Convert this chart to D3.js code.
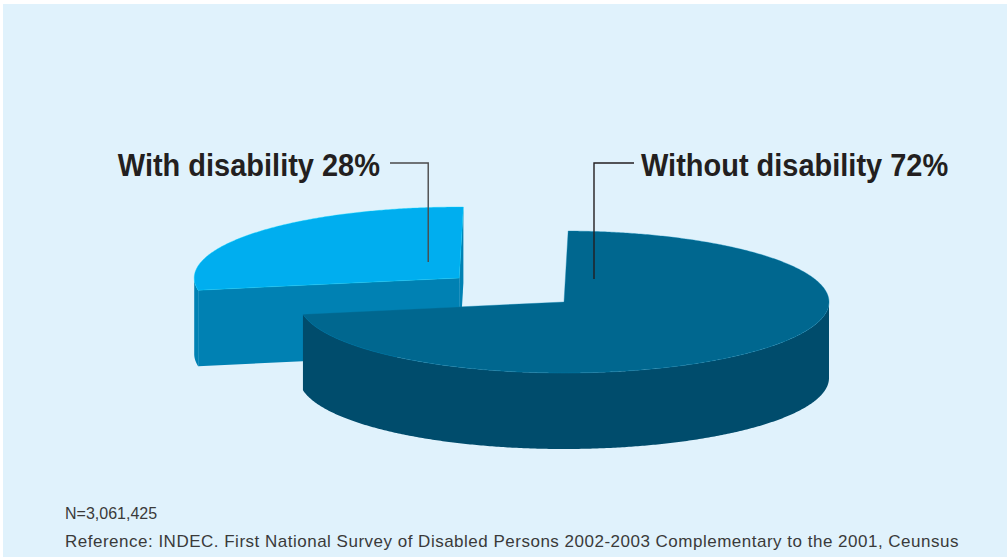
<!DOCTYPE html>
<html>
<head>
<meta charset="utf-8">
<script src="https://cdn.jsdelivr.net/npm/d3@7"></script>
<style>
  html, body { margin: 0; padding: 0; background: #ffffff; }
  svg { display: block; }
</style>
</head>
<body>
<svg id="chart" width="1007" height="558"></svg>
<script>
// ---- data ----
const categories = ["Without disability", "With disability"];
const values = [72, 28];
const labels = ["Without disability 72%", "With disability 28%"];
const sampleNote = "N=3,061,425";
const sourceNote = "Reference: INDEC. First National Survey of Disabled Persons 2002-2003 Complementary to the 2001, Ceunsus";

// ---- styling / layout ----
const topColors = ["#00678f", "#00aeef"];
const sideColors = ["#004c6c", "#0081b3"];
const explode = [0, 0.52];
const W = 1007, H = 558;
const cx = 564, cy = 302, rx = 265, ry = 71, depth = 76;
const startAngle = 0.9 * Math.PI / 180;

const svg = d3.select("#chart");
svg.append("rect").attr("x", 3).attr("y", 4).attr("width", W - 3).attr("height", H - 5)
  .attr("fill", "#e0f2fc");

const pie = d3.pie().sort(null).startAngle(startAngle).endAngle(startAngle + 2 * Math.PI);
const arcs = pie(values);

// projection of unit-circle angle to the tilted ellipse
const px = (c, a, r = 1) => c[0] + rx * r * Math.sin(a);
const py = (c, a, r = 1) => c[1] - ry * r * Math.cos(a);
const line = d3.line();

function rimPoints(c, a0, a1, dy) {
  const n = Math.max(2, Math.ceil(Math.abs(a1 - a0) / (0.5 * Math.PI / 180)));
  const pts = [];
  for (let i = 0; i <= n; i++) {
    const a = a0 + (a1 - a0) * i / n;
    pts.push([px(c, a), py(c, a) + dy]);
  }
  return pts;
}

function centerOf(d, i) {
  const mid = (d.startAngle + d.endAngle) / 2;
  return [cx + rx * explode[i] * Math.sin(mid), cy - ry * explode[i] * Math.cos(mid)];
}

function drawSlice(g, d, i) {
  const c = centerOf(d, i);
  const a0 = d.startAngle, a1 = d.endAngle;
  // cut faces (visible only when they face the viewer)
  if (Math.sin(a0) < -1e-6) {
    g.append("path").attr("fill", sideColors[i])
      .attr("d", line([[c[0], c[1]], [px(c, a0), py(c, a0)], [px(c, a0), py(c, a0) + depth], [c[0], c[1] + depth]]) + "Z");
  }
  if (Math.sin(a1) > 1e-6) {
    g.append("path").attr("fill", sideColors[i])
      .attr("d", line([[c[0], c[1]], [px(c, a1), py(c, a1)], [px(c, a1), py(c, a1) + depth], [c[0], c[1] + depth]]) + "Z");
  }
  // outer wall, front half (90deg..270deg)
  [[Math.PI / 2, 1.5 * Math.PI], [2.5 * Math.PI, 3.5 * Math.PI]].forEach(([f0, f1]) => {
    const s = Math.max(a0, f0), e = Math.min(a1, f1);
    if (e > s) {
      const topPts = rimPoints(c, s, e, 0);
      const botPts = rimPoints(c, e, s, depth);
      g.append("path").attr("fill", sideColors[i])
        .attr("d", line(topPts.concat(botPts)) + "Z");
    }
  });
  // top face
  const topPts = [[c[0], c[1]]].concat(rimPoints(c, a0, a1, 0));
  g.append("path").attr("fill", topColors[i])
    .attr("stroke", d3.color(topColors[i]).brighter(0.6)).attr("stroke-width", 0.6)
    .attr("stroke-opacity", 0.6)
    .attr("d", line(topPts) + "Z");
}

// draw the back (exploded) slice first, then the front one
const g = svg.append("g");
drawSlice(g, arcs[1], 1);
drawSlice(g, arcs[0], 0);

// ---- labels & leader lines ----
const cBig = centerOf(arcs[0], 0);
const cSmall = centerOf(arcs[1], 1);
const labelY = 163;

svg.append("path").attr("fill", "none").attr("stroke", "#4a4a4a").attr("stroke-width", 1.4)
  .attr("d", line([[390, labelY], [cSmall[0] - 31, labelY], [cSmall[0] - 31, cSmall[1] - 16]]));
svg.append("path").attr("fill", "none").attr("stroke", "#231f20").attr("stroke-width", 1.4)
  .attr("d", line([[634, labelY], [cBig[0] + 30, labelY], [cBig[0] + 30, cBig[1] - 23]]));

svg.append("text").attr("transform", "translate(380,176) scale(0.935,1)")
  .attr("text-anchor", "end")
  .attr("font-family", "'Liberation Sans', Arial, sans-serif").attr("font-weight", "bold")
  .attr("font-size", 31).attr("fill", "#231f20").text(labels[1]);
svg.append("text").attr("transform", "translate(641,176) scale(0.935,1)")
  .attr("text-anchor", "start")
  .attr("font-family", "'Liberation Sans', Arial, sans-serif").attr("font-weight", "bold")
  .attr("font-size", 31).attr("fill", "#231f20").text(labels[0]);

// ---- footer ----
svg.append("text").attr("x", 65).attr("y", 519)
  .attr("font-family", "'Liberation Sans', Arial, sans-serif")
  .attr("font-size", 16).attr("fill", "#3a3a3a").text(sampleNote);
svg.append("text").attr("x", 65).attr("y", 547)
  .attr("font-family", "'Liberation Sans', Arial, sans-serif")
  .attr("font-size", 17).attr("letter-spacing", 0.5).attr("fill", "#3a3a3a").text(sourceNote);
</script>
</body>
</html>
